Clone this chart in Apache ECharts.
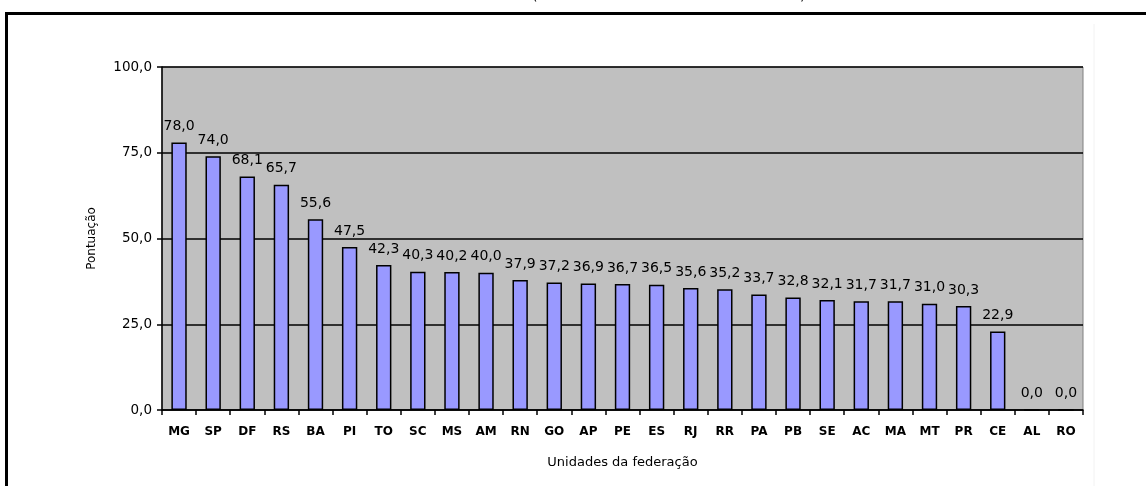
<!DOCTYPE html>
<html>
<head>
<meta charset="utf-8">
<script src="https://cdn.jsdelivr.net/npm/echarts@6/dist/echarts.min.js"></script>
<style>
html,body{margin:0;padding:0;background:#fff;}
#chart{width:1146px;height:486px;}
</style>
</head>
<body>
<div id="chart"></div>
<script>
const categories = ['MG','SP','DF','RS','BA','PI','TO','SC','MS','AM','RN','GO','AP','PE','ES','RJ','RR','PA','PB','SE','AC','MA','MT','PR','CE','AL','RO'];
const values = [78.0,74.0,68.1,65.7,55.6,47.5,42.3,40.3,40.2,40.0,37.9,37.2,36.9,36.7,36.5,35.6,35.2,33.7,32.8,32.1,31.7,31.7,31.0,30.3,22.9,0.0,0.0];
const yTicks = [0,25,50,75,100];
const xTitle = 'Unidades da federação';
const yTitle = 'Pontuação';

const fmt = v => v.toFixed(1).replace('.', ',');
const chart = echarts.init(document.getElementById('chart'), null, {renderer:'canvas'});
chart.setOption({
  backgroundColor:'#ffffff',
  animation:false,
  grid:{left:162,right:63,top:67,bottom:76,show:true,backgroundColor:'#C0C0C0',borderColor:'#808080',borderWidth:1},
  graphic:[
    {type:'rect',left:4,top:11,shape:{width:1160,height:500},style:{fill:'none',stroke:'#000',lineWidth:3},silent:true},
    {type:'line',shape:{x1:1094,y1:24,x2:1094,y2:486},style:{stroke:'#f2f2f2',lineWidth:1},silent:true},
    {type:'text',left:532,top:-11,style:{text:'(',font:'14px "DejaVu Sans"',fill:'#000'}},
    {type:'text',left:800,top:-11,style:{text:')',font:'14px "DejaVu Sans"',fill:'#000'}}
  ],
  xAxis:{
    type:'category',data:categories,
    name:xTitle,nameLocation:'middle',nameGap:46,
    nameTextStyle:{fontFamily:'DejaVu Sans',fontSize:13,color:'#000'},
    axisLine:{lineStyle:{color:'#000',width:1.5}},
    axisTick:{show:true,length:5,lineStyle:{color:'#000',width:1.5},alignWithLabel:false},
    axisLabel:{fontFamily:'DejaVu Sans',fontSize:12,fontWeight:'bold',color:'#000',margin:16,interval:0}
  },
  yAxis:{
    type:'value',min:yTicks[0],max:yTicks[yTicks.length-1],interval:25,
    name:yTitle,nameLocation:'middle',nameGap:64,
    nameTextStyle:{fontFamily:'DejaVu Sans',fontSize:12,color:'#000'},
    axisLine:{show:true,lineStyle:{color:'#000',width:1.5}},
    axisTick:{show:true,length:5,lineStyle:{color:'#000',width:1.5}},
    axisLabel:{fontFamily:'DejaVu Sans',fontSize:13.5,color:'#000',margin:10,formatter:fmt},
    splitLine:{show:true,lineStyle:{color:'#000',width:1.5}}
  },
  series:[{
    type:'bar',data:values,barWidth:'45%',
    itemStyle:{color:'#9999FF',borderColor:'#000',borderWidth:1.5},
    label:{show:true,position:'top',distance:9,fontFamily:'DejaVu Sans',fontSize:14,color:'#000',
      formatter:p=>fmt(p.value)}
  }]
});
</script>
</body>
</html>
